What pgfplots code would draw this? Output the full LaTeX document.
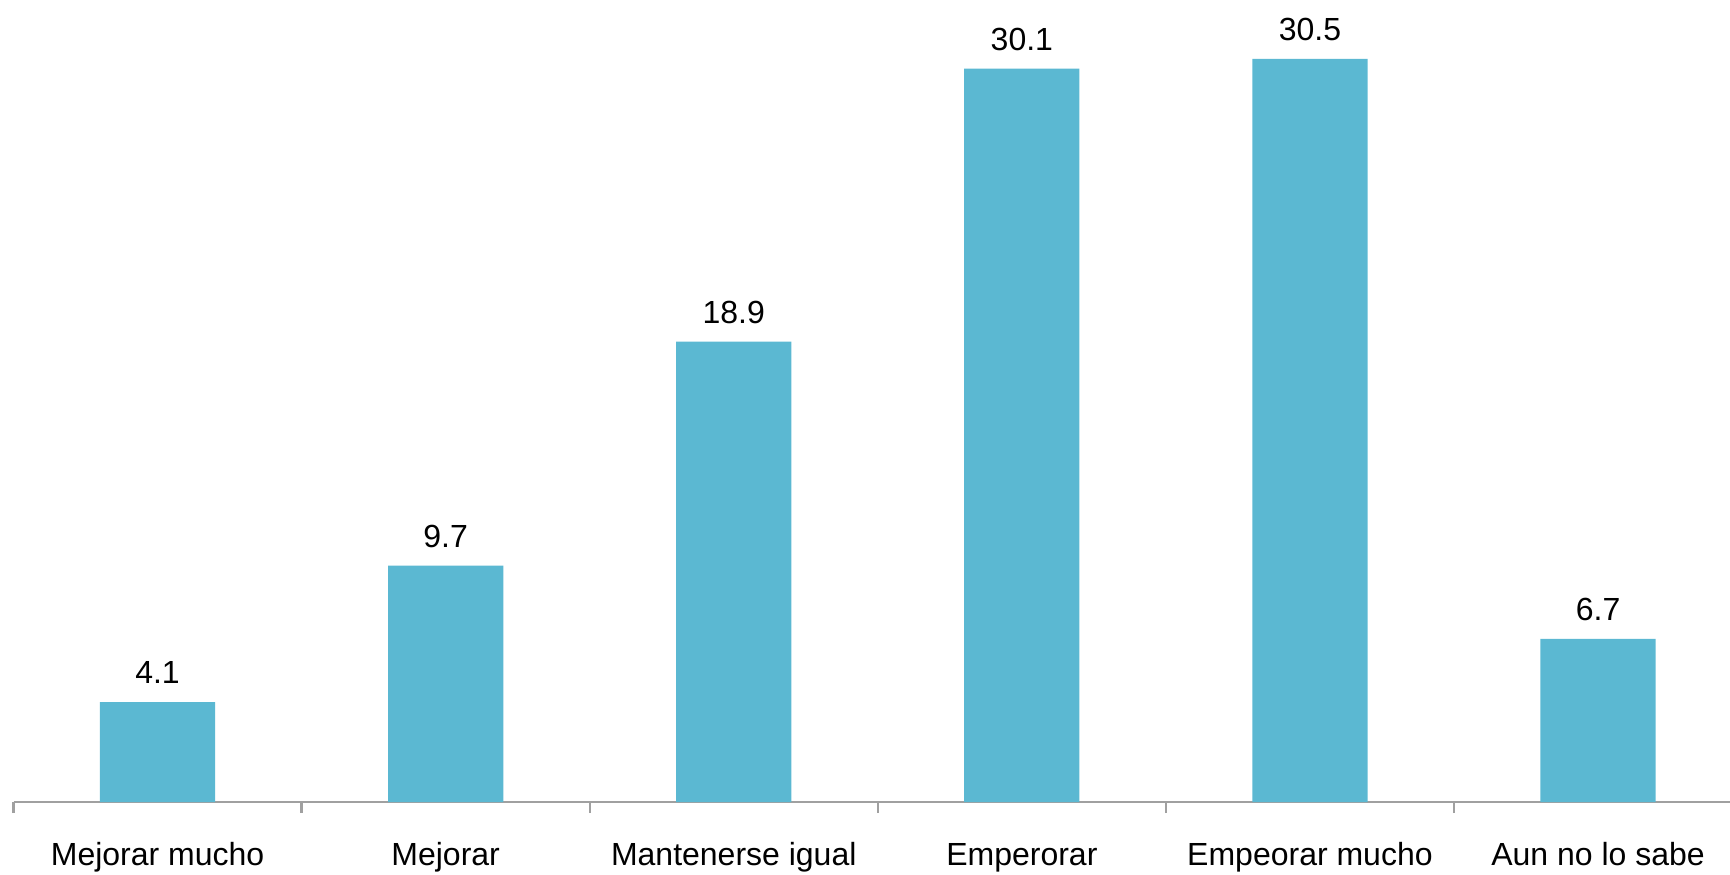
\documentclass[border=0pt]{standalone}
\usepackage{fontspec}
\setmainfont{Liberation Sans}
\usepackage{pgfplots}
\pgfplotsset{compat=1.18}
\definecolor{barc}{RGB}{91,184,210}
\definecolor{axc}{RGB}{160,160,160}
\begin{document}
\begin{tikzpicture}
\begin{axis}[
  name=ax,
  scale only axis,
  width=858.25pt, height=401pt,
  xmin=-0.5, xmax=5.458,
  ymin=0, ymax=32.92,
  axis x line*=bottom,
  axis y line=none,
  axis line style={axc, line width=1.2pt},
  xtick={0,1,2,3,4,5},
  xticklabels={Mejorar mucho, Mejorar, Mantenerse igual, Emperorar, Empeorar mucho, Aun no lo sabe},
  major tick length=0pt,
  minor xtick={-0.5,0.5,1.5,2.5,3.5,4.5},
  minor tick length=5.5pt,
  tick align=outside,
  minor tick style={axc, line width=1.2pt},
  xticklabel style={anchor=base, yshift=-31.5pt, inner sep=0pt, font=\fontsize{16}{19}\selectfont},
  ytick=\empty,
  clip=false,
  nodes near coords,
  nodes near coords style={anchor=base, yshift=9.2pt, inner sep=0pt, font=\fontsize{16}{19}\selectfont,
    /pgf/number format/.cd, fixed, fixed zerofill, precision=1, assume math mode=true},
]
\addplot[ybar, bar width=0.4, fill=barc, draw=none] coordinates {
  (0,4.1) (1,9.7) (2,18.9) (3,30.1) (4,30.5) (5,6.7)
};
\end{axis}
\pgfresetboundingbox
\path[use as bounding box] ([xshift=-6.75pt,yshift=-36pt]ax.south west) rectangle (ax.north east);
\end{tikzpicture}
\end{document}
